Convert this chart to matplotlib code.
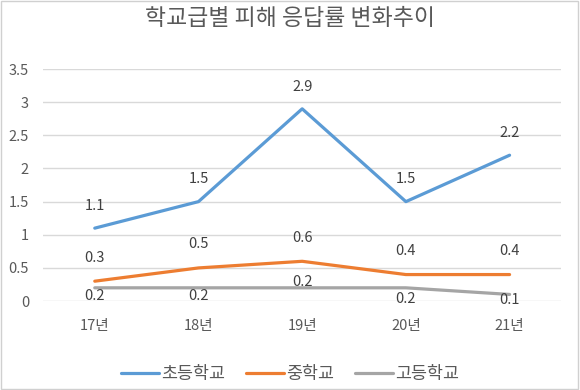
import matplotlib
matplotlib.use('Agg')
import matplotlib.pyplot as plt
from matplotlib.patches import Rectangle

plt.rcParams['font.family'] = ['Noto Sans CJK KR', 'DejaVu Sans']

years = ['17년', '18년', '19년', '20년', '21년']
elementary = [1.1, 1.5, 2.9, 1.5, 2.2]
middle = [0.3, 0.5, 0.6, 0.4, 0.4]
high = [0.2, 0.2, 0.2, 0.2, 0.1]
series_names = ['초등학교', '중학교', '고등학교']
title = '학교급별 피해 응답률 변화추이'

txt = '#595959'
fig = plt.figure(figsize=(5.8, 3.9), dpi=100)
ax = fig.add_axes([0.074, 0.228, 0.894, 0.595])

x = range(len(years))
l1, = ax.plot(x, elementary, color='#5B9BD5', lw=2.3, solid_capstyle='round')
l2, = ax.plot(x, middle, color='#ED7D31', lw=2.3, solid_capstyle='round')
l3, = ax.plot(x, high, color='#A5A5A5', lw=2.3, solid_capstyle='round')

# data labels: blue and orange above, gray mostly below
for i, v in enumerate(elementary):
    ax.annotate(f'{v:g}', (i, v), xytext=(0, 16), textcoords='offset points',
                ha='center', va='center', fontsize=10.5, color='#404040')
for i, v in enumerate(middle):
    ax.annotate(f'{v:g}', (i, v), xytext=(0, 17), textcoords='offset points',
                ha='center', va='center', fontsize=10.5, color='#404040')
gray_off = [-6, -6, 4, -8, -4]
for i, v in enumerate(high):
    ax.annotate(f'{v:g}', (i, v), xytext=(0, gray_off[i]), textcoords='offset points',
                ha='center', va='center', fontsize=10.5, color='#404040')

ax.set_xlim(-0.5, len(years) - 0.5)
ax.set_ylim(0, 3.5)
ax.set_yticks([0, 0.5, 1, 1.5, 2, 2.5, 3, 3.5])
ax.set_yticklabels(['0', '0.5', '1', '1.5', '2', '2.5', '3', '3.5'])
ax.set_xticks(list(x))
ax.set_xticklabels(years)
ax.tick_params(axis='both', length=0, colors=txt, labelsize=10.5)
ax.tick_params(axis='x', pad=13)
ax.tick_params(axis='y', pad=10)
ax.grid(axis='y', color='#D9D9D9', lw=1)
ax.set_axisbelow(True)
for s in ax.spines.values():
    s.set_visible(False)

fig.text(0.5, 0.953, title, ha='center', va='center', fontsize=16.5, color=txt)

fig.legend([l1, l2, l3], series_names, loc='center', bbox_to_anchor=(0.5, 0.04),
           ncol=3, frameon=False, fontsize=12.5, handlelength=2.2, handletextpad=0.1,
           columnspacing=1.2, labelcolor=txt)

fig.patches.append(Rectangle((0.002, 0.003), 0.995, 0.994, transform=fig.transFigure,
                             fill=False, edgecolor='#D0D0D0', lw=1))

fig.savefig('out.png', dpi=100)
